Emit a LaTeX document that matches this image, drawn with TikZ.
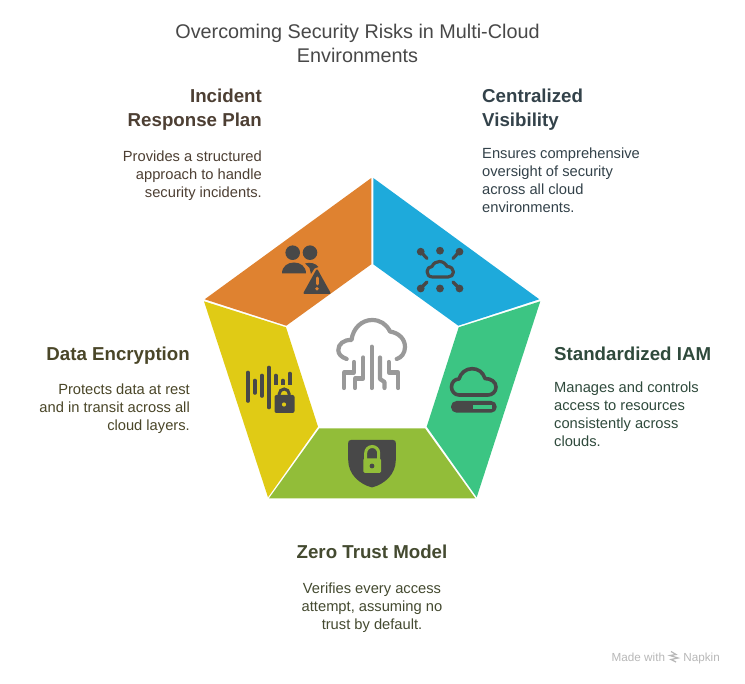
\documentclass[tikz,border=0pt]{standalone}
\usepackage{fontspec}
\setmainfont{Liberation Sans}
\definecolor{icon}{HTML}{484848}
\definecolor{cgray}{HTML}{999999}
\definecolor{corange}{HTML}{DF8230}
\definecolor{cblue}{HTML}{1EAADB}
\definecolor{cgreen}{HTML}{3CC583}
\definecolor{clime}{HTML}{92BD39}
\definecolor{cyellow}{HTML}{E0CB15}
\definecolor{torange}{HTML}{4D3F33}
\definecolor{tblue}{HTML}{33424A}
\definecolor{tgreen}{HTML}{2F4A3C}
\definecolor{tlime}{HTML}{444A30}
\definecolor{tyellow}{HTML}{4A4628}
\tikzset{
  headtext/.style={inner sep=0pt,font=\fontsize{18.7}{24}\selectfont\bfseries},
  bodytext/.style={inner sep=0pt,font=\fontsize{14.7}{18}\selectfont},
  iconline/.style={draw=icon,line cap=round,line join=round,line width=3.2pt},
  centerline/.style={draw=cgray,line cap=round,line join=round,line width=4.2pt},
}
\begin{document}
\begin{tikzpicture}[x=1pt,y=-1pt]
\useasboundingbox (0,0) rectangle (745,684);
\fill[white] (0,0) rectangle (745,684);
% wedges
\fill[corange] (371.3,178) -- (371.3,264.3) -- (286.3,325.7) -- (204.7,299.3) -- cycle;
\fill[cblue] (373.3,178) -- (373.3,264.3) -- (458.3,325.7) -- (539.3,299.3) -- cycle;
\fill[cgreen] (540.3,301.3) -- (458.7,327.3) -- (426.7,426.7) -- (476.7,497.3) -- cycle;
\fill[clime] (319.3,428.3) -- (425,428.3) -- (475.3,498.3) -- (269,498.3) -- cycle;
\fill[cyellow] (204,301.3) -- (286,327.3) -- (318,426.7) -- (268,497.3) -- cycle;
% title
\node[inner sep=0pt,align=center,font=\fontsize{19.8}{24}\selectfont,text=icon,anchor=north] (title) at (357.5,23.5) {Overcoming Security Risks in Multi-Cloud\\Environments};
% headings and descriptions
\node[headtext,text=torange,align=right,anchor=north east] (h1) at (262,88.5) {Incident\\Response Plan};
\node[bodytext,text=torange,align=right,anchor=north east] (b1) at (262,150.5) {Provides a structured\\approach to handle\\security incidents.};
\node[headtext,text=tblue,align=left,anchor=north west] (h2) at (482,88.5) {Centralized\\Visibility};
\node[bodytext,text=tblue,align=left,anchor=north west] (b2) at (482,147.5) {Ensures comprehensive\\oversight of security\\across all cloud\\environments.};
\node[headtext,text=tgreen,align=left,anchor=north west] (h3) at (554,346.5) {Standardized IAM};
\node[bodytext,text=tgreen,align=left,anchor=north west] (b3) at (554,381.5) {Manages and controls\\access to resources\\consistently across\\clouds.};
\node[headtext,text=tyellow,align=right,anchor=north east] (h4) at (190,346.5) {Data Encryption};
\node[bodytext,text=tyellow,align=right,anchor=north east] (b4) at (190,383.5) {Protects data at rest\\and in transit across all\\cloud layers.};
\node[headtext,text=tlime,align=center,anchor=north] (h5) at (372,544.5) {Zero Trust Model};
\node[bodytext,text=tlime,align=center,anchor=north] (b5) at (372,582.5) {Verifies every access\\attempt, assuming no\\trust by default.};
% footer
\node[inner sep=0pt,font=\fontsize{11.7}{14}\selectfont,text=black!28,anchor=base west] (f1) at (611.5,661) {Made with};
\node[inner sep=0pt,font=\fontsize{11.7}{14}\selectfont,text=black!28,anchor=base east] (f2) at (720,661) {Napkin};
\draw[black!28,line width=1.2pt] (671,651.5) -- (676,654.5) -- (670,655.5) -- (678,658) -- (671,659.5) -- (676,662);
% centre icon
\draw[centerline] (346.7,359) .. controls (341,357) and (338.3,354) .. (338.3,350) .. controls (338.3,344) and (344,339.5) .. (351.5,340) .. controls (353,328) and (362,320) .. (372,320) .. controls (380,320) and (386.5,324) .. (390,331.5) .. controls (399,333) and (405,339) .. (405,347) .. controls (405,353) and (401.5,357.5) .. (396.7,359);
\draw[centerline] (371.7,346.7) -- (371.7,388);
\draw[centerline] (363.3,357.5) -- (363.3,378.5) -- (355,378.5) -- (355,388);
\draw[centerline] (354,362) -- (354,372.5) -- (344,372.5) -- (344,388);
\draw[centerline] (380,357.5) -- (380,379) -- (384.5,382) -- (384.5,388);
\draw[centerline] (388.7,362) -- (388.7,372.5) -- (398.3,372.5) -- (398.3,388);
% blue icon
\fill[icon] (440,250.7) circle (3.9) (440,288.5) circle (3.9);
\fill[icon] (420.7,251.7) circle (3.9) (459.5,251.7) circle (3.9) (420.7,288.5) circle (3.9) (459.5,288.5) circle (3.9);
\draw[iconline] (421,252) -- (427,258.5);
\draw[iconline] (459,252) -- (453,258.5);
\draw[iconline] (421,288) -- (427,282);
\draw[iconline] (459,288) -- (453,282);
\draw[iconline] (432.5,277) .. controls (429,277) and (427,274.5) .. (427,271.5) .. controls (427,268.5) and (429.5,266.5) .. (432,266.5) .. controls (433.5,263) and (436.5,261.5) .. (439.5,261.5) .. controls (443,261.5) and (446,264) .. (447,266.5) .. controls (451,266.5) and (453.5,269) .. (453.5,272) .. controls (453.5,275) and (451,277) .. (448,277) -- cycle;
% orange icon
\fill[icon] (292.7,252.7) circle (7.3) (310,252.7) circle (7.3);
\fill[icon] (282,273.5) .. controls (282,266) and (288,262.5) .. (294,262.5) .. controls (300,262.5) and (306,266) .. (306,273.5) -- cycle;
\fill[icon] (305,263.5) .. controls (310,262) and (315.5,263) .. (318.5,267) -- (314.5,268.5) -- (311,274) -- (309.5,268) -- cycle;
\fill[icon,draw=icon,line width=2pt,line join=round] (317,270.5) -- (329.5,293) -- (304.5,293) -- cycle;
\draw[corange,line width=3pt,line cap=round] (317,278) -- (317,284);
\fill[corange] (317,288.7) circle (1.9);
% green icon
\draw[iconline,line width=3.6pt] (459,395) .. controls (454.5,395) and (451.5,391) .. (451.5,387) .. controls (451.5,382) and (455,379) .. (459,379) .. controls (460.5,373) and (466,368.7) .. (472,368.7) .. controls (478,368.7) and (483,372) .. (485,378.5) .. controls (491,378.5) and (496,382) .. (496,387) .. controls (496,392) and (492,395) .. (488,395) -- cycle;
\fill[icon,rounded corners=5.5pt] (451,401) rectangle (496.7,412.7);
\fill[cgreen] (473,404.7) rectangle (491.7,408.7);
% lime icon
\fill[icon] (351,440) -- (393,440) .. controls (395,440) and (395.8,441) .. (395.8,443) -- (395.8,460) .. controls (395.8,474) and (385,484) .. (372,487.5) .. controls (359,484) and (348.2,474) .. (348.2,460) -- (348.2,443) .. controls (348.2,441) and (349,440) .. (351,440) -- cycle;
\draw[clime,line width=3pt] (365.7,459) -- (365.7,453) arc[start angle=180,end angle=360,radius=6.5] -- (378.7,459);
\fill[clime,rounded corners=1.5pt] (363.3,458.3) rectangle (381,473);
\fill[icon] (372,466) circle (2.4);
% yellow icon
\draw[iconline,line width=3.6pt,line cap=round]
  (248,372.5) -- (248,401) (254.7,380.5) -- (254.7,393) (262,375.5) -- (262,396)
  (269,367.5) -- (269,407.5) (275.7,375.5) -- (275.7,387.5) (282.7,380.5) -- (282.7,384.5) (289.7,373.5) -- (289.7,386);
\fill[cyellow] (272.5,385) rectangle (297.5,413);
\draw[icon,line width=3pt] (279.2,396) -- (279.2,394) arc[start angle=180,end angle=360,radius=5] -- (289.2,396);
\fill[icon,rounded corners=2pt] (274.5,395) rectangle (294.5,413);
\fill[cyellow] (284,404.5) circle (2.1);
\end{tikzpicture}
\end{document}
